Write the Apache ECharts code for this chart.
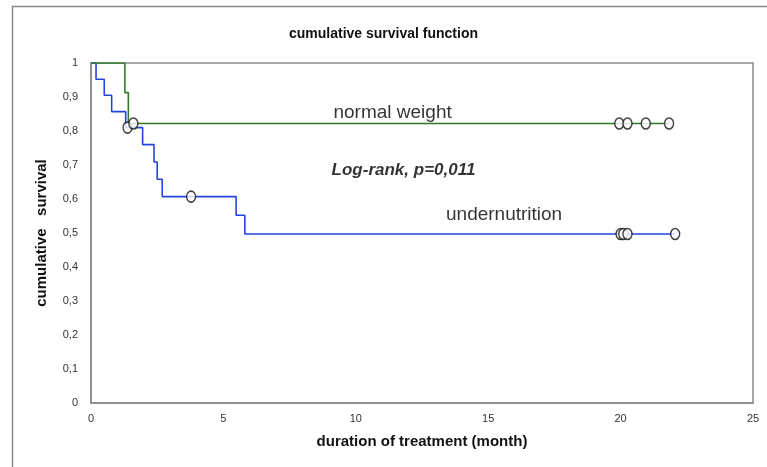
<!DOCTYPE html>
<html>
<head>
<meta charset="utf-8">
<script src="https://cdn.jsdelivr.net/npm/echarts@6/dist/echarts.min.js"></script>
<style>html,body{margin:0;padding:0;background:#fff}#c{width:767px;height:467px}</style>
</head>
<body>
<div id="c"></div>
<script>
// Kaplan-Meier step data
const underTimes = [0, 0.19, 0.50, 0.78, 1.31, 1.95, 2.38, 2.50, 2.69, 5.48, 5.81, 22.06];
const underSurv  = [1, 0.952, 0.905, 0.857, 0.810, 0.760, 0.709, 0.658, 0.607, 0.552, 0.497, 0.497];
const normalTimes = [0, 1.28, 1.41, 21.83];
const normalSurv  = [1, 0.913, 0.822, 0.822];
// censored observations
const underCensT = [1.38, 3.78, 20.0, 20.1, 20.26, 22.06];
const underCensS = [0.810, 0.607, 0.497, 0.497, 0.497, 0.497];
const normalCensT = [1.60, 19.95, 20.26, 20.95, 21.83];
const normalCensS = [0.822, 0.822, 0.822, 0.822, 0.822];
// annotations
const noteTexts = ['normal weight', 'Log-rank, p=0,011', 'undernutrition'];
const noteT = [11.39, 11.8, 15.6];
const noteS = [0.853, 0.685, 0.553];
const xTicks = [0, 5, 10, 15, 20, 25];

const zip = (a, b) => a.map((v, i) => [v, b[i]]);
const font = 'Liberation Sans, Arial, sans-serif';
const blue = '#2244e0', green = '#2f7a2a';

const chart = echarts.init(document.getElementById('c'), null, {renderer: 'canvas'});
chart.setOption({
  animation: false,
  backgroundColor: '#fff',
  title: {
    text: 'cumulative survival function', left: 'center', top: 22,
    textStyle: {fontFamily: font, fontSize: 14, fontWeight: 'bold', color: '#111'}
  },
  graphic: [
    {type: 'line', shape: {x1: 12, y1: 6.5, x2: 767, y2: 6.5}, style: {stroke: '#8a8a8a', lineWidth: 1.5}, silent: true},
    {type: 'line', shape: {x1: 12.5, y1: 6, x2: 12.5, y2: 467}, style: {stroke: '#8a8a8a', lineWidth: 1.5}, silent: true}
  ],
  grid: {left: 91, top: 63, width: 662, height: 340, show: true, borderColor: '#8a8a8a', borderWidth: 1.5, backgroundColor: '#fff'},
  xAxis: {
    type: 'value', min: 0, max: 25, interval: 5,
    name: 'duration of treatment (month)', nameLocation: 'middle', nameGap: 31,
    nameTextStyle: {fontFamily: font, fontSize: 15, fontWeight: 'bold', color: '#111'},
    axisLine: {show: true, lineStyle: {color: '#8a8a8a', width: 1.5}},
    axisTick: {show: false}, splitLine: {show: false},
    axisLabel: {margin: 10, fontFamily: font, fontSize: 11, color: '#333',
      formatter: v => xTicks.includes(v) ? String(v) : ''}
  },
  yAxis: {
    type: 'value', min: 0, max: 1, interval: 0.1,
    name: 'cumulative   survival', nameLocation: 'middle', nameGap: 42, nameRotate: 90,
    nameTextStyle: {fontFamily: font, fontSize: 15, fontWeight: 'bold', color: '#111'},
    axisLine: {show: true, lineStyle: {color: '#8a8a8a', width: 1.5}},
    axisTick: {show: false}, splitLine: {show: false},
    axisLabel: {margin: 13, fontFamily: font, fontSize: 11, color: '#333',
      formatter: v => (Math.round(v * 10) / 10).toString().replace('.', ',')}
  },
  series: [
    {name: 'undernutrition', type: 'line', step: 'end', data: zip(underTimes, underSurv),
      showSymbol: false, lineStyle: {color: blue, width: 1.6}, z: 2},
    {name: 'normal weight', type: 'line', step: 'end', data: zip(normalTimes, normalSurv),
      showSymbol: false, lineStyle: {color: green, width: 1.6}, z: 3},
    {name: 'censored under', type: 'scatter', data: zip(underCensT, underCensS), symbol: 'circle', symbolSize: [9, 11],
      itemStyle: {color: '#fff', borderColor: '#111', borderWidth: 1.5}, z: 5},
    {name: 'censored normal', type: 'scatter', data: zip(normalCensT, normalCensS), symbol: 'circle', symbolSize: [9, 11],
      itemStyle: {color: '#fff', borderColor: '#111', borderWidth: 1.5}, z: 5},
    {name: 'notes', type: 'scatter', symbolSize: 0, silent: true, z: 6,
      data: noteTexts.map((t, i) => ({value: [noteT[i], noteS[i]], label: {
        show: true, position: 'inside', formatter: t, fontFamily: font, color: '#000',
        fontSize: i === 1 ? 17 : 19, fontWeight: i === 1 ? 'bold' : 'normal', fontStyle: i === 1 ? 'italic' : 'normal'}}))}
  ]
});
</script>
</body>
</html>
